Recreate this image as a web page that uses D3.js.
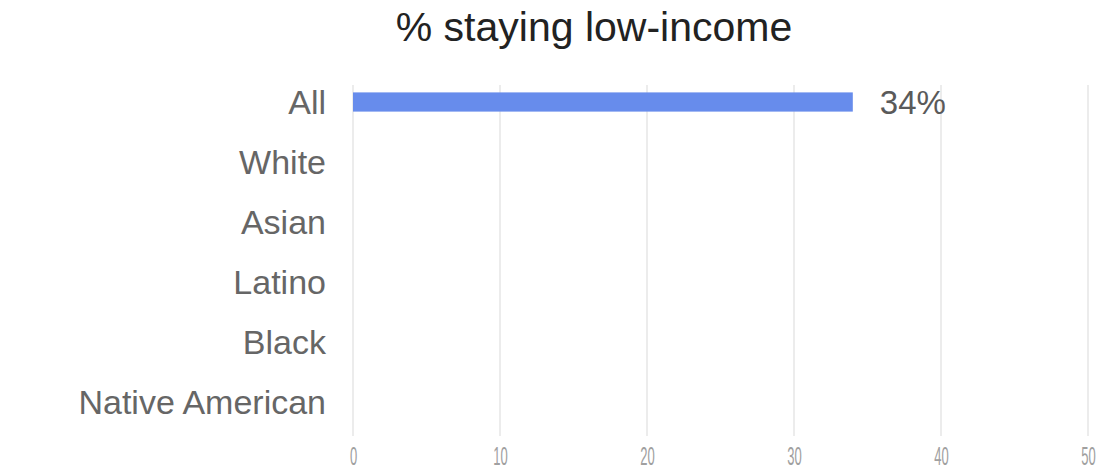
<!DOCTYPE html>
<html>
<head>
<meta charset="utf-8">
<script src="https://cdn.jsdelivr.net/npm/d3@7"></script>
<style>
  html, body { margin: 0; padding: 0; background: #fff; }
  svg { display: block; font-family: "Liberation Sans", Arial, sans-serif; }
</style>
</head>
<body>
<svg id="chart" width="1101" height="470"></svg>
<script>
// Share of people staying low-income, by group
const title = "% staying low-income";
const categories = ["All", "White", "Asian", "Latino", "Black", "Native American"];
const values = [34, null, null, null, null, null];
const tickValues = [0, 10, 20, 30, 40, 50];

const svg = d3.select("#chart");

const x = d3.scaleLinear().domain([0, 50]).range([353, 1088]);
const y = d3.scaleBand().domain(categories).range([72, 432])
  .paddingInner(0.68).paddingOuter(0.34);

// Title
svg.append("text")
  .attr("x", 594).attr("y", 41)
  .attr("text-anchor", "middle")
  .attr("font-size", 41)
  .attr("fill", "#222")
  .text(title);

// Vertical gridlines
svg.append("g")
  .selectAll("line")
  .data(tickValues)
  .join("line")
  .attr("x1", d => x(d)).attr("x2", d => x(d))
  .attr("y1", 85).attr("y2", 436)
  .attr("stroke", "#e0e0e0")
  .attr("stroke-width", 1.2);

// Category labels
const yAxis = svg.append("g")
  .attr("transform", `translate(${x(0) - 27},0)`)
  .call(d3.axisLeft(y).tickSize(0).tickPadding(0));
yAxis.select(".domain").remove();
yAxis.selectAll("text")
  .attr("font-size", 34)
  .attr("font-family", "Liberation Sans, Arial, sans-serif")
  .attr("fill", "#666")
  .attr("dy", "0.36em");

// Bars
const rows = categories.map((c, i) => ({ cat: c, value: values[i] }))
  .filter(d => d.value != null);

svg.append("g")
  .selectAll("rect")
  .data(rows)
  .join("rect")
  .attr("x", x(0))
  .attr("y", d => y(d.cat))
  .attr("width", d => x(d.value) - x(0))
  .attr("height", y.bandwidth())
  .attr("fill", "#678cec");

// Value labels
svg.append("g")
  .selectAll("text")
  .data(rows)
  .join("text")
  .attr("x", d => x(d.value) + 27)
  .attr("y", d => y(d.cat) + y.bandwidth() / 2)
  .attr("dy", "0.36em")
  .attr("font-size", 33)
  .attr("fill", "#5a5a5a")
  .text(d => d.value + "%");

// Bottom axis tick labels (narrow, light)
const xAxis = svg.append("g")
  .attr("transform", "translate(0,456)")
  .call(d3.axisBottom(x).tickValues(tickValues).tickSize(0).tickPadding(0).tickFormat(d3.format("d")));
xAxis.select(".domain").remove();
xAxis.selectAll(".tick text")
  .attr("font-size", 26)
  .attr("font-family", "Liberation Sans, Arial, sans-serif")
  .attr("fill", "#a0a0a0")
  .attr("dy", "0.36em")
  .attr("y", 0)
  .attr("transform", "scale(0.5,1)");
</script>
</body>
</html>
